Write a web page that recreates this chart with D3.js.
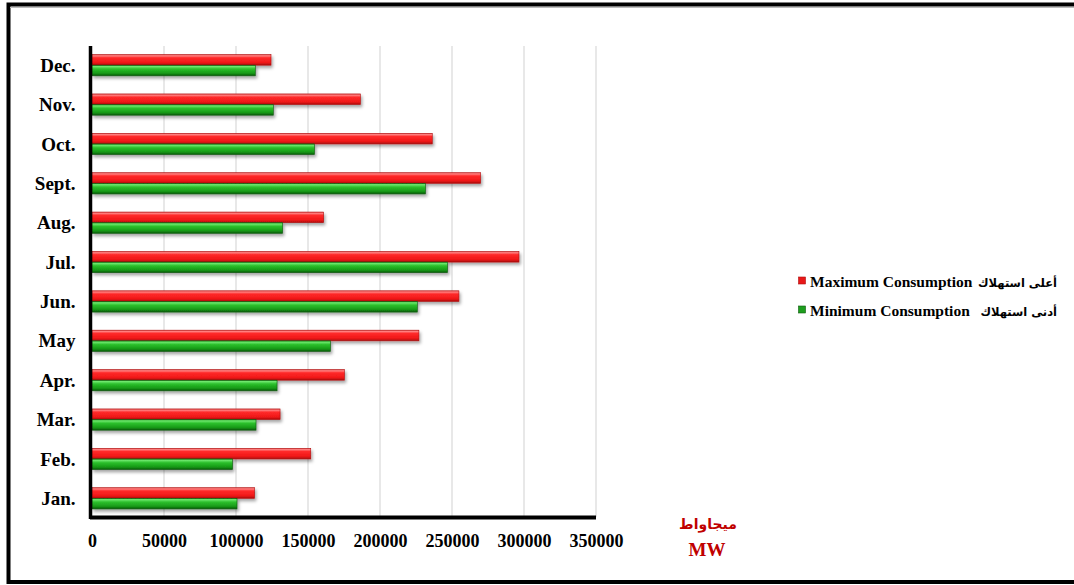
<!DOCTYPE html>
<html>
<head>
<meta charset="utf-8">
<script src="https://cdn.jsdelivr.net/npm/d3@7"></script>
<style>
  html, body { margin: 0; padding: 0; background: #fff; }
  svg { display: block; }
</style>
</head>
<body>
<svg id="chart" width="1074" height="585"></svg>
<script>
// Monthly electricity consumption (MW), top row is December
const months = ["Jan.", "Feb.", "Mar.", "Apr.", "May", "Jun.", "Jul.", "Aug.", "Sept.", "Oct.", "Nov.", "Dec."];
const maxConsumption = [112900, 151900, 130600, 175300, 227000, 254800, 296500, 160900, 269900, 236300, 186400, 124300];
const minConsumption = [100700, 97600, 113900, 128500, 165600, 225900, 246900, 132400, 231600, 154500, 125900, 113400];
const xTicks = [0, 50000, 100000, 150000, 200000, 250000, 300000, 350000];
const seriesKeys = ["max", "min"];
const legendLabels = [
  { key: "max", en: "Maximum Consumption", ar: "أعلى استهلاك" },
  { key: "min", en: "Minimum Consumption", ar: "أدنى استهلاك" }
];
const unitLabels = ["ميجاواط", "MW"];

const rows = months.map((m, i) => ({ month: m, max: maxConsumption[i], min: minConsumption[i] }));

const svg = d3.select("#chart");
const serif = "'Liberation Serif', 'Times New Roman', 'DejaVu Serif', serif";

// gradients giving the bars their glossy tube look
const defs = svg.append("defs");
function tubeGradient(id, stops) {
  const g = defs.append("linearGradient").attr("id", id)
    .attr("x1", 0).attr("y1", 0).attr("x2", 0).attr("y2", 1);
  stops.forEach(([o, c]) => g.append("stop").attr("offset", o).attr("stop-color", c));
}
tubeGradient("gradMax", [[0, "#e04848"], [0.12, "#ff8080"], [0.3, "#ff2a2a"], [0.75, "#f01818"], [1, "#a80c0c"]]);
tubeGradient("gradMin", [[0, "#1c8c1c"], [0.12, "#6ee86e"], [0.35, "#2cc02c"], [0.75, "#179a17"], [1, "#0a5a0a"]]);
const shadow = defs.append("filter").attr("id", "barShadow")
  .attr("x", "-5%").attr("y", "-30%").attr("width", "115%").attr("height", "190%");
shadow.append("feDropShadow").attr("dx", 1.5).attr("dy", 2.5).attr("stdDeviation", 1.6)
  .attr("flood-color", "#000").attr("flood-opacity", 0.35);

const colors = { max: "url(#gradMax)", min: "url(#gradMin)" };
const edge = { max: "#b01010", min: "#0d5a0d" };
const swatch = { max: "#e81818", min: "#1e9e1e" };

// outer frame
svg.append("rect").attr("x", 8.5).attr("y", 4.5).attr("width", 1100).attr("height", 577.5)
  .attr("fill", "none").attr("stroke", "#000").attr("stroke-width", 4);
svg.append("line").attr("x1", 10).attr("x2", 1074).attr("y1", 7.5).attr("y2", 7.5)
  .attr("stroke", "#bbb").attr("stroke-width", 1);

const x = d3.scaleLinear().domain([0, 350000]).range([92, 596]);
const y = d3.scaleBand().domain(months.slice().reverse()).range([45.5, 518])
  .paddingInner(0.46).paddingOuter(0.23);
const ySub = d3.scaleBand().domain(seriesKeys).range([0, y.bandwidth()]);

// vertical grid lines
svg.append("g").selectAll("line").data(xTicks.slice(1)).join("line")
  .attr("x1", d => x(d)).attr("x2", d => x(d))
  .attr("y1", 46).attr("y2", 517)
  .attr("stroke", "#d9d9d9").attr("stroke-width", 1.2);

// bars
const groups = svg.append("g").selectAll("g").data(rows).join("g")
  .attr("transform", d => `translate(0,${y(d.month)})`);
groups.selectAll("rect").data(d => seriesKeys.map(k => ({ key: k, value: d[k] }))).join("rect")
  .attr("x", x(0))
  .attr("y", d => ySub(d.key))
  .attr("width", d => x(d.value) - x(0))
  .attr("height", ySub.bandwidth())
  .attr("fill", d => colors[d.key])
  .attr("stroke", d => edge[d.key])
  .attr("stroke-width", 0.6)
  .attr("filter", "url(#barShadow)");

// axes
const xAxis = d3.axisBottom(x).tickValues(xTicks).tickSize(0).tickFormat(d3.format("d"));
const gx = svg.append("g").attr("transform", "translate(0,517.5)").call(xAxis);
gx.select(".domain").attr("stroke", "#000").attr("stroke-width", 4).attr("d", `M${x(0) - 2},0H${x(350000)}`);
gx.selectAll("text").attr("y", 29).attr("dy", 0)
  .attr("font-family", serif).attr("font-weight", "bold").attr("font-size", 18).attr("fill", "#000");

const yAxis = d3.axisLeft(y).tickSize(0);
const gy = svg.append("g").attr("transform", "translate(90.5,0)").call(yAxis);
gy.select(".domain").attr("stroke", "#000").attr("stroke-width", 3.5).attr("d", "M0,46V519");
gy.selectAll("text").attr("x", -15).attr("dy", "0.35em")
  .attr("font-family", serif).attr("font-weight", "bold").attr("font-size", 19).attr("fill", "#000");

// legend
const legend = svg.append("g");
legendLabels.forEach((d, i) => {
  const by = 286.5 + i * 29;
  legend.append("rect").attr("x", 798.5).attr("y", by - 9.5).attr("width", 7).attr("height", 7)
    .attr("fill", swatch[d.key]).attr("stroke", edge[d.key]).attr("stroke-width", 0.6);
  legend.append("text").attr("x", 810).attr("y", by)
    .attr("font-family", serif).attr("font-weight", "bold").attr("font-size", 15.5).attr("fill", "#000")
    .text(d.en);
  legend.append("text").attr("x", 1057).attr("y", by).attr("text-anchor", "end")
    .attr("font-family", "'DejaVu Sans', 'Noto Sans', sans-serif").attr("font-weight", "bold")
    .attr("font-size", 11.5).attr("fill", "#000")
    .text(d.ar);
});

// unit label
svg.append("text").attr("x", 708).attr("y", 529).attr("text-anchor", "middle")
  .attr("font-family", "'DejaVu Sans', sans-serif").attr("font-weight", "bold")
  .attr("font-size", 14).attr("fill", "#c00000").text(unitLabels[0]);
svg.append("text").attr("x", 707).attr("y", 555.5).attr("text-anchor", "middle")
  .attr("font-family", serif).attr("font-weight", "bold")
  .attr("font-size", 19).attr("fill", "#c00000").text(unitLabels[1]);
</script>
</body>
</html>
